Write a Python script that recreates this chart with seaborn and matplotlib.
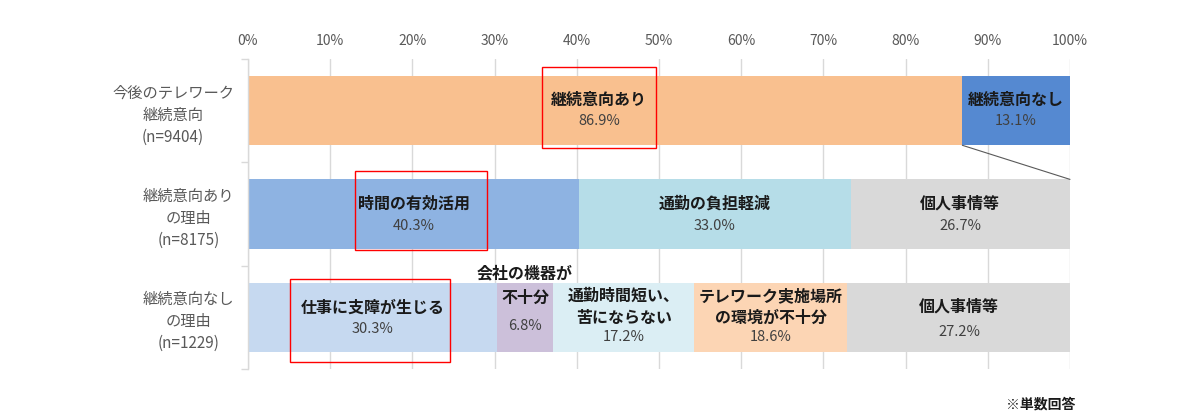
import matplotlib
matplotlib.use("Agg")
import matplotlib.pyplot as plt
import matplotlib.transforms as mtransforms
import seaborn as sns
import pandas as pd
from matplotlib.patches import Rectangle

# ---------------- data ----------------
row_labels = ["今後のテレワーク\n継続意向\n(n=9404)",
              "継続意向あり\nの理由\n(n=8175)",
              "継続意向なし\nの理由\n(n=1229)"]

row1_names = ["継続意向あり", "継続意向なし"]
row1_values = [86.9, 13.1]

row2_names = ["時間の有効活用", "通勤の負担軽減", "個人事情等"]
row2_values = [40.3, 33.0, 26.7]

row3_names = ["仕事に支障が生じる", "会社の機器が\n不十分", "通勤時間短い、\n苦にならない",
              "テレワーク実施場所\nの環境が不十分", "個人事情等"]
row3_values = [30.3, 6.8, 17.2, 18.6, 27.2]

x_ticks = [0, 10, 20, 30, 40, 50, 60, 70, 80, 90, 100]
x_tick_labels = [f"{v}%" for v in x_ticks]
footnote = "※単数回答"

# ---------------- style ----------------
row1_colors = ["#F9C08F", "#5589D1"]
row2_colors = ["#8EB3E2", "#B6DDE8", "#D9D9D9"]
row3_colors = ["#C6D9F0", "#CCC0DA", "#DBEEF4", "#FCD5B4", "#D9D9D9"]

# label/pct vertical offsets (category units) and line spacing per segment
row1_off = [(-0.10, 0.10, 1.3), (-0.10, 0.10, 1.3)]
row2_off = [(-0.10, 0.12, 1.3), (-0.10, 0.12, 1.3), (-0.10, 0.12, 1.3)]
row3_off = [(-0.097, 0.116, 1.3), (-0.31, 0.087, 1.65), (-0.10, 0.19, 1.45),
            (-0.10, 0.19, 1.45), (-0.106, 0.145, 1.3)]
label_x_override = {(0, 0): 42.7}

sns.set_theme(style="white")
plt.rcParams["font.family"] = ["Noto Sans CJK JP", "DejaVu Sans"]

fig = plt.figure(figsize=(12, 4.18), dpi=100)
ax = fig.add_axes([248 / 1200, 1 - 369 / 418, (1070 - 248) / 1200, (369 - 59) / 418])

rows_data = [(row1_names, row1_values, row1_colors, row1_off),
             (row2_names, row2_values, row2_colors, row2_off),
             (row3_names, row3_values, row3_colors, row3_off)]

order = row_labels
bar_w = 0.67
for r, (names, vals, cols, offs) in enumerate(rows_data):
    cums = []
    s = 0
    for v in vals:
        s += v
        cums.append(s)
    # draw from longest cumulative to shortest so stacks overlap properly
    for k in reversed(range(len(vals))):
        df = pd.DataFrame({"val": [cums[k]], "row": [row_labels[r]]})
        sns.barplot(data=df, x="val", y="row", order=order, orient="h",
                    color=cols[k], saturation=1, width=bar_w, ax=ax,
                    zorder=2, linewidth=0)
    start = 0
    for k, v in enumerate(vals):
        cx = label_x_override.get((r, k), start + v / 2)
        lo, po, ls = offs[k]
        ax.text(cx, r + lo, names[k], ha="center", va="center", fontsize=11.5,
                color="#1a1a1a", fontweight="bold", linespacing=ls, zorder=5)
        ax.text(cx, r + po, f"{v:.1f}%", ha="center", va="center", fontsize=10.5,
                color="#404040", zorder=5)
        start += v

# red highlight boxes
boxes = [(35.8, 49.6, 0, -0.42, 0.36), (13.0, 29.1, 1, -0.42, 0.35), (5.1, 24.6, 2, -0.37, 0.43)]
for x0, x1, r, y0, y1 in boxes:
    ax.add_patch(Rectangle((x0, r + y0), x1 - x0, y1 - y0, fill=False,
                           edgecolor="#FF0000", linewidth=1.0, zorder=6, clip_on=False))

# connector line
ax.plot([row1_values[0], 100], [0 + bar_w / 2, 1 - bar_w / 2], color="#595959",
        linewidth=0.8, zorder=4, clip_on=False)

ax.set_xlim(0, 100)
ax.set_ylim(2.5, -0.5)
ax.set_xticks(x_ticks)
ax.set_xticklabels(x_tick_labels, fontsize=10, color="#595959")
ax.xaxis.tick_top()
ax.tick_params(axis="x", length=0, pad=8)
ax.set_xlabel("")
ax.set_ylabel("")
ax.set_yticks(range(len(row_labels)))
ax.set_yticklabels(row_labels, fontsize=11, color="#595959", multialignment="center",
                   linespacing=1.38)
shift = mtransforms.ScaledTranslation(0, 3 / 100, fig.dpi_scale_trans)
for t in ax.get_yticklabels():
    t.set_transform(t.get_transform() + shift)
ax.tick_params(axis="y", which="major", length=0, pad=10)
ax.set_yticks([-0.5, 0.5, 1.5, 2.5], minor=True)
ax.tick_params(axis="y", which="minor", length=5, color="#D9D9D9", width=1, left=True)

ax.grid(True, axis="x", color="#D9D9D9", linewidth=1, zorder=0)
ax.grid(False, axis="y")
ax.set_axisbelow(True)
for sp in ["top", "right", "bottom"]:
    ax.spines[sp].set_visible(False)
ax.spines["left"].set_color("#D9D9D9")
ax.spines["left"].set_linewidth(1)

fig.text(1075 / 1200, 1 - 405 / 418, footnote, ha="right", va="center", fontsize=10,
         fontweight="bold", color="#1a1a1a")

fig.savefig("out.png", dpi=100)
